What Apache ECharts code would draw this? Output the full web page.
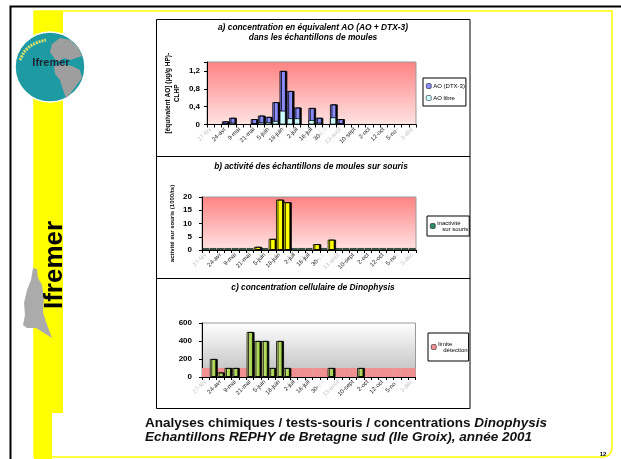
<!DOCTYPE html>
<html><head><meta charset="utf-8">
<script src="https://cdn.jsdelivr.net/npm/echarts@6/dist/echarts.min.js"></script>
<style>html,body{margin:0;padding:0;background:#fff}#c{width:621px;height:459px}</style>
</head><body><div id="c"></div><script>
// ---------- data ----------
const categories = ['27-fév','27-mars','24-avr','2-mai','9-mai','15-mai','21-mai','29-mai','5-juin','11-juin','18-juin','25-juin','2-juil','9-juil','16-juil','23-juil','30-juil','6-août','13-août','27-août','10-sept','18-sept','2-oct','8-oct','12-oct','22-oct','5-nov','19-nov','3-déc'];
const ghostLabels = ['27-fév','13-août','3-déc'];
// a) AO equivalent (µg/g HP)
const aoTotal = [null,null,0.07,0.15,null,null,0.12,0.2,0.17,0.5,1.2,0.75,0.38,null,0.37,0.15,null,0.45,0.12,null,null,null,null,null,null,null,null,null,null];
const aoLibre = [null,null,0.01,0.04,null,null,0.02,0.05,0.05,0.08,0.31,0.14,0.14,null,0.1,0.04,null,0.16,0.02,null,null,null,null,null,null,null,null,null,null];
// b) mouse test
const mouseActive   = [null,null,null,null,null,null,null,1.2,null,4.2,19,18,null,null,null,2.2,null,3.9,null,null,null,null,null,null,null,null,null,null,null];
const mouseInactive = [0.7,0.7,0.7,0.7,0.7,0.7,0.7,null,0.7,null,null,null,0.7,0.7,0.7,null,0.7,null,0.7,0.7,0.7,0.7,0.7,0.7,0.7,0.7,0.7,0.7,0.7];
// c) Dinophysis cells
const dinophysis = [null,200,50,100,100,null,500,400,400,100,400,100,null,null,null,null,null,100,null,null,null,100,null,null,null,null,null,null,null];
const detectionLimit = [100,100,100,100,100,100,100,100,100,100,100,100,100,100,100,100,100,100,100,100,100,100,100,100,100,100,100,100,100];

// ---------- chart ----------
const FONT = '"Liberation Sans", Arial, sans-serif';
const chart = echarts.init(document.getElementById('c'), null, {renderer:'canvas'});

function xLabel(v){
  if (ghostLabels.indexOf(v) >= 0) return '{g|' + v + '}';
  if (v === '30-juil') return '30-{w|juil}';
  if (v === '5-nov') return '5-no{w|v}';
  return v;
}
function xAxisDef(gi){
  return {
    type:'category', gridIndex:gi, data:categories, boundaryGap:true,
    axisLine:{show:true, lineStyle:{color:'#000', width:1}},
    axisTick:{show:true, interval:0, length:3, lineStyle:{color:'#000'}},
    axisLabel:{interval:1, rotate:45, fontSize:6, color:'#222', margin:4, fontFamily:FONT,
      formatter:xLabel, rich:{g:{color:'#c4c4c4', fontSize:6, fontFamily:FONT}, w:{color:'#e6e6e6', fontSize:6, fontFamily:FONT}}},
    splitLine:{show:false}
  };
}
function yAxisDef(gi, max, interval, margin, fmt){
  return {
    type:'value', gridIndex:gi, min:0, max:max, interval:interval,
    axisLine:{show:true, lineStyle:{color:'#000'}},
    axisTick:{show:true, length:3, lineStyle:{color:'#000'}},
    axisLabel:{fontSize:8, fontWeight:'bold', color:'#000', margin:margin, fontFamily:FONT, formatter:fmt},
    splitLine:{show:false}
  };
}
const pinkBg = new echarts.graphic.LinearGradient(0,0,0,1,[{offset:0,color:'#FF8282'},{offset:1,color:'#FFE4E4'}]);
const pinkBg2 = new echarts.graphic.LinearGradient(0,0,0,1,[{offset:0,color:'#FF8282'},{offset:1,color:'#FFE4E4'}]);
const grayBg = new echarts.graphic.LinearGradient(0,0,0,1,[{offset:0,color:'#FFFFFF'},{offset:1,color:'#BDBDBD'}]);
const greenGrad = new echarts.graphic.LinearGradient(0,0,1,0,[{offset:0,color:'#EAF7A4'},{offset:1,color:'#8EC432'}]);

const shadow = {shadowColor:'#000', shadowBlur:0, shadowOffsetX:1.5, shadowOffsetY:0};

const yA = yAxisDef(0, 1.4, 0.4, 7, v => v > 1.3 ? '' : (v === 0 ? '0' : v.toFixed(1).replace('.', ',')));
yA.name = '[équivalent AO] (µg/g HP)-\nCLHP';
yA.nameLocation = 'middle'; yA.nameRotate = 90; yA.nameGap = 25;
yA.nameTextStyle = {fontSize:6.5, fontWeight:'bold', color:'#000', fontFamily:FONT, lineHeight:9};
const yB = yAxisDef(1, 20, 5, 10);
yB.name = 'activité sur souris (1000/ts)';
yB.nameLocation = 'middle'; yB.nameRotate = 90; yB.nameGap = 27;
yB.nameTextStyle = {fontSize:6, fontWeight:'bold', color:'#000', fontFamily:FONT};
const yC = yAxisDef(2, 600, 200, 10);

const xC2 = xAxisDef(2);
xC2.show = false;

function legendDef(left, top, names, pad, gap){
  return {
    left:left, top:top, orient:'vertical', data:names,
    backgroundColor:'#fff', borderColor:'#000', borderWidth:1, borderRadius:0,
    padding:pad, itemWidth:5, itemHeight:5, itemGap:gap,
    itemStyle:{borderWidth:0.5, borderColor:'#000'},
    textStyle:{fontSize:6, color:'#000', fontFamily:FONT, padding:[0,0,0,-3]},
    formatter: n => n.replace(' sur', '\n   sur').replace(' détection', '\n   détection'),
    selectedMode:false
  };
}

const option = {
  animation:false,
  backgroundColor:'#fff',
  grid:[
    {left:207, top:62, width:209, height:62.5, show:true, backgroundColor:pinkBg, borderColor:'#999', borderWidth:1},
    {left:202, top:197, width:214, height:53, show:true, backgroundColor:pinkBg2, borderColor:'#999', borderWidth:1},
    {left:202, top:323, width:213.5, height:54, show:true, backgroundColor:grayBg, borderColor:'#999', borderWidth:1}
  ],
  xAxis:[xAxisDef(0), xAxisDef(1), xAxisDef(2), xC2],
  yAxis:[yA, yB, yC],
  legend:[
    legendDef(423, 78, ['AO (DTX-3)','AO libre'], [5,1,5,3], 6),
    legendDef(427, 216, ['inactivité sur souris'], [4,1,4,3], 4),
    legendDef(428, 333, ['limite détection'], [8,1,8,3], 4)
  ],
  series:[
    {name:'AO (DTX-3)', type:'bar', xAxisIndex:0, yAxisIndex:0, data:aoTotal, barCategoryGap:'14%', barGap:'-100%',
      itemStyle:Object.assign({color:'#8C8CFF', borderColor:'#000', borderWidth:0.8}, shadow)},
    {name:'AO libre', type:'bar', xAxisIndex:0, yAxisIndex:0, data:aoLibre, barCategoryGap:'14%', barGap:'-100%',
      itemStyle:{color:'#CCFFFF', borderColor:'#000', borderWidth:0.8}},
    {name:'inactivité sur souris', type:'bar', xAxisIndex:1, yAxisIndex:1, data:mouseInactive, barCategoryGap:'8%', barGap:'-100%',
      itemStyle:{color:'#2E8B64', borderColor:'#000', borderWidth:0.6}},
    {name:'souris actives', type:'bar', xAxisIndex:1, yAxisIndex:1, data:mouseActive, barCategoryGap:'8%', barGap:'-100%',
      itemStyle:Object.assign({color:'#FFFF00', borderColor:'#000', borderWidth:0.8}, shadow)},
    {name:'limite détection', type:'bar', xAxisIndex:3, yAxisIndex:2, data:detectionLimit, barCategoryGap:'0%',
      itemStyle:{color:'#F09090', borderWidth:0}},
    {name:'Dinophysis', type:'bar', xAxisIndex:2, yAxisIndex:2, data:dinophysis, barCategoryGap:'14%', z:3,
      itemStyle:Object.assign({color:greenGrad, borderColor:'#000', borderWidth:0.8}, shadow)}
  ],
  graphic:[
    // slide frame
    {type:'rect', z:-20, shape:{x:10.5,y:6.5,width:640,height:480}, style:{fill:'none', stroke:'#000', lineWidth:2}},
    {type:'rect', z:-19, shape:{x:34,y:11,width:578,height:446, r:[0,0,9,0]}, style:{fill:'none', stroke:'#FFFF00', lineWidth:1.5}},
    {type:'rect', z:-18, shape:{x:34,y:11,width:29,height:402}, style:{fill:'#FFFF00'}},
    {type:'rect', z:-18, shape:{x:34,y:413,width:18,height:46}, style:{fill:'#FFFF00'}},
    // globe logo
    {type:'circle', z:-10, shape:{cx:50,cy:67,r:35}, style:{fill:'#1D9AA2', stroke:'#fff', lineWidth:1.5}},
    {type:'polygon', z:-9, shape:{points:[[52,44],[60,38],[70,40],[78,47],[82,56],[76,58],[70,60],[64,58],[58,62],[54,58],[50,52]]}, style:{fill:'#9E9E9E'}},
    {type:'polygon', z:-9, shape:{points:[[54,66],[62,64],[72,66],[80,70],[82,78],[76,86],[70,94],[66,98],[63,90],[60,80],[55,74]]}, style:{fill:'#9E9E9E'}},
    {type:'polyline', z:-9, shape:{points:[[20,60],[24,52],[30,46],[38,42],[46,40]]}, style:{stroke:'#D8E070', lineWidth:3, lineDash:[2,1], fill:'none'}},
    {type:'text', z:-8, style:{text:'Ifremer', x:51, y:63, font:'bold 11px ' + FONT, fill:'#1C2633', align:'center', verticalAlign:'middle', textAlign:'center', textVerticalAlign:'middle'}},
    // statue silhouette
    {type:'polygon', z:-9, shape:{points:[[33,268],[37,269],[38,278],[42,285],[44,298],[43,312],[46,322],[52,338],[44,333],[36,328],[27,328],[23,325],[25,315],[24,303],[27,290],[31,280]]}, style:{fill:'#ABABAB'}},
    // vertical brand
    {type:'text', z:-7, rotation:Math.PI/2, x:55, y:265, style:{text:'Ifremer', x:0, y:0, font:'bold 26px ' + FONT, fill:'#000', align:'center', verticalAlign:'middle', textAlign:'center', textVerticalAlign:'middle'}},
    // chart frame
    {type:'rect', z:-5, shape:{x:156.5,y:19.5,width:313.5,height:389}, style:{fill:'none', stroke:'#000', lineWidth:1}},
    {type:'line', z:-5, shape:{x1:156.5,y1:156.5,x2:470,y2:156.5}, style:{stroke:'#000', lineWidth:1}},
    {type:'line', z:-5, shape:{x1:156.5,y1:278.5,x2:470,y2:278.5}, style:{stroke:'#000', lineWidth:1}},
    // panel titles
    {type:'text', style:{text:'a) concentration en équivalent AO (AO + DTX-3)', x:313, y:28, font:'italic bold 8.4px ' + FONT, fill:'#000', align:'center', verticalAlign:'middle', textAlign:'center', textVerticalAlign:'middle'}},
    {type:'text', style:{text:'dans les échantillons de moules', x:313, y:38, font:'italic bold 8.4px ' + FONT, fill:'#000', align:'center', verticalAlign:'middle', textAlign:'center', textVerticalAlign:'middle'}},
    {type:'text', style:{text:'b) activité des échantillons de moules sur souris', x:311, y:167, font:'italic bold 8.4px ' + FONT, fill:'#000', align:'center', verticalAlign:'middle', textAlign:'center', textVerticalAlign:'middle'}},
    {type:'text', style:{text:'c) concentration cellulaire de Dinophysis', x:313, y:288, font:'italic bold 8.4px ' + FONT, fill:'#000', align:'center', verticalAlign:'middle', textAlign:'center', textVerticalAlign:'middle'}},
    // caption
    {type:'text', style:{text:'{a|Analyses chimiques / tests-souris / concentrations }{b|Dinophysis}', x:145, y:423, verticalAlign:'middle', textVerticalAlign:'middle',
      rich:{a:{font:'bold 13.5px ' + FONT, fill:'#111'}, b:{font:'italic bold 13.5px ' + FONT, fill:'#111'}}}},
    {type:'text', style:{text:'Echantillons REPHY de Bretagne sud (Ile Groix), année 2001', x:145, y:437, font:'italic bold 13.5px ' + FONT, fill:'#111', verticalAlign:'middle', textVerticalAlign:'middle'}},
    {type:'text', style:{text:'12', x:603, y:454, font:'bold 6px ' + FONT, fill:'#000', align:'center', verticalAlign:'middle', textAlign:'center', textVerticalAlign:'middle'}}
  ]
};
chart.setOption(option);
</script></body></html>
